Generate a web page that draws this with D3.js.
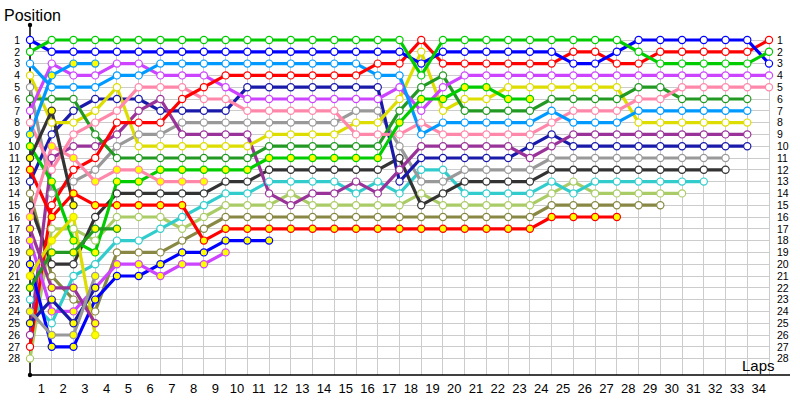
<!DOCTYPE html>
<html><head><meta charset="utf-8">
<script src="https://cdn.jsdelivr.net/npm/d3@7"></script>
<style>body{margin:0;background:#fff}svg{display:block}</style>
</head><body><svg id="c" width="800" height="400"></svg>
<script>
// lap labels / position labels
const laps = d3.range(1, 35);
const positions = d3.range(1, 29);
// team colours
const colGreen = "#00cc00", colBlue = "#0000ff", colSky = "#0099ff", colRed = "#ff0000",
      colViolet = "#cc44ff", colPink = "#ff88aa", colDkGreen = "#229922", colYellow = "#dddd00",
      colPurple = "#993399", colDkBlue = "#1a1aaa", colGray = "#999999", colBlack = "#333333",
      colCyan = "#33cccc", colLOlive = "#aacc66", colOlive = "#888844";
// positions per lap (index = lap, 0 = grid)
const greenA  = [2,1,1,1,1,1,1,1,1,1,1,1,1,1,1,1,1,1,4,1,1,1,1,1,1,1,1,1,2,3,3,3,3,3,2];
const blueA   = [1,2,2,2,2,2,2,2,2,2,2,2,2,2,2,2,2,2,3,2,2,2,2,2,2,3,3,2,1,1,1,1,1,1,3];
const redA    = [27,15,12,11,8,8,8,6,5,4,4,4,4,4,4,4,3,3,1,3,3,3,3,3,3,2,2,3,3,2,2,2,2,2,1];
const violetA = [7,3,4,4,3,3,4,4,4,5,6,6,6,6,6,6,6,5,7,5,4,4,4,4,4,4,4,4,4,4,4,4,4,4,4];
const pinkA   = [8,12,9,8,7,5,5,5,6,6,7,7,7,7,7,9,9,9,8,9,9,9,9,9,8,7,7,7,6,6,5,5,5,5,5];
const dkgreenA= [6,6,6,9,11,11,11,11,11,11,11,10,10,10,10,10,10,7,5,4,7,7,7,7,6,6,6,6,5,5,6,6,6,6];
const skyA    = [3,5,5,5,4,4,3,3,3,3,3,3,3,3,3,3,4,4,9,8,8,8,8,8,7,8,8,8,7,7,7,7,7,7];
const yellowA = [4,8,8,7,5,10,10,10,10,10,10,9,9,9,9,8,8,6,2,7,6,6,5,5,5,5,5,5,8,8,8,8,8,8];
const purpleA = [26,11,10,10,9,7,6,9,9,9,9,14,15,14,14,13,14,12,10,10,10,10,10,11,10,9,9,9,9,9,9,9,9,9];
const dkblueA = [13,9,7,6,6,6,7,7,7,7,5,5,5,5,5,5,5,13,11,11,11,11,11,10,9,10,10,10,10,10,10,10,10,10];
const grayA   = [5,14,13,12,10,9,9,8,8,8,8,8,8,8,8,7,7,10,13,13,12,12,12,12,11,11,11,11,11,11,11,11,11];
const blackA  = [15,20,20,16,14,14,14,14,14,13,13,12,12,12,12,12,12,11,15,14,13,13,13,13,12,12,12,12,12,12,12,12,12];
const cyanA   = [23,25,21,20,18,18,17,16,15,14,14,13,13,13,13,14,13,14,12,12,14,14,14,14,13,14,13,13,13,13,13,13];
const loliveA = [28,17,17,18,16,16,16,17,16,15,15,15,14,15,15,15,15,15,14,15,15,15,15,15,14,13,14,14,14,14,14];
const oliveA  = [14,21,23,24,19,19,19,18,17,16,16,16,16,16,16,16,16,16,16,16,16,16,16,16,15,15,15,15,15,15];
const redB    = [12,16,14,15,15,15,15,15,18,17,17,17,17,17,17,17,17,17,17,17,17,17,17,17,16,16,16,16];
const greenB  = [10,13,18,19,13,13,12,12,12,12,12,11,11,11,11,11,11,8,6,6,5,5,6,6];
const pinkB   = [16,10,11,13,12,12,13,13,13];
const blueB   = [20,27,27,23,21,21,20,19,19,18,18,18];
const violetB = [18,24,24,22,20,20,21,20,20,19];
const skyB    = [9,4,3,3];
const blackB  = [11,7,15];
const yellowB = [21,18,16,26];
const dkgreenB= [22,19,19,17,17];
const purpleB = [17,22,22,25];
const oliveB  = [19];
const dkblueB = [25,23,25,22];
const grayB   = [24,26,26,21];

const series = [
  {c: colOlive, f:"#fff", d: oliveA}, {c: colLOlive, f:"#fff", d: loliveA}, {c: colCyan, f:"#fff", d: cyanA},
  {c: colBlack, f:"#fff", d: blackA}, {c: colGray, f:"#fff", d: grayA}, {c: colDkBlue, f:"#fff", d: dkblueA},
  {c: colPurple, f:"#fff", d: purpleA}, {c: colYellow, f:"#fff", d: yellowA}, {c: colDkGreen, f:"#fff", d: dkgreenA},
  {c: colPink, f:"#fff", d: pinkA}, {c: colViolet, f:"#fff", d: violetA}, {c: colSky, f:"#fff", d: skyA},
  {c: colRed, f:"#fff", d: redA}, {c: colBlue, f:"#fff", d: blueA}, {c: colGreen, f:"#fff", d: greenA},
  {c: colRed, f:"#ffff00", d: redB}, {c: colGreen, f:"#ffff00", d: greenB}, {c: colPink, f:"#ffff00", d: pinkB},
  {c: colBlue, f:"#ffff00", d: blueB}, {c: colViolet, f:"#ffff00", d: violetB}, {c: colSky, f:"#ffff00", d: skyB},
  {c: colBlack, f:"#ffff00", d: blackB}, {c: colYellow, f:"#ffff00", d: yellowB}, {c: colDkGreen, f:"#ffff00", d: dkgreenB},
  {c: colPurple, f:"#ffff00", d: purpleB}, {c: colOlive, f:"#ffff00", d: oliveB}, {c: colDkBlue, f:"#ffff00", d: dkblueB},
  {c: colGray, f:"#ffff00", d: grayB}
];

const svg = d3.select("#c");
const x = d3.scaleLinear().domain([0, 34]).range([30, 769]);
const y = d3.scaleLinear().domain([1, 28]).range([40, 358.6]);
const grid = svg.append("g").attr("stroke", "#cccccc").attr("stroke-width", 1).attr("shape-rendering", "crispEdges");
grid.selectAll("line.v").data(d3.range(0, 35)).join("line").attr("class", "v")
  .attr("x1", d => x(d)).attr("x2", d => x(d)).attr("y1", y(1)).attr("y2", 375);
grid.selectAll("line.h").data(positions).join("line").attr("class", "h")
  .attr("x1", x(0)).attr("x2", x(34)).attr("y1", d => y(d)).attr("y2", d => y(d));

// axes
const fontF = "Liberation Sans, Arial, sans-serif";
const ax = svg.append("g").attr("transform", "translate(0,375)")
  .call(d3.axisBottom(x).tickValues(laps.map(l => l - 0.5)).tickFormat(d => d + 0.5).tickSize(0).tickPadding(9));
ax.select(".domain").remove();
ax.selectAll("text").attr("font-family", fontF).attr("font-size", 13).attr("fill", "#000");
const ayl = svg.append("g").attr("transform", "translate(30,0)")
  .call(d3.axisLeft(y).tickValues(positions).tickFormat(d3.format("d")).tickSize(0).tickPadding(10));
ayl.select(".domain").remove();
ayl.selectAll("text").attr("font-family", fontF).attr("font-size", 10.5).attr("fill", "#000");
const ayr = svg.append("g").attr("transform", "translate(769,0)")
  .call(d3.axisRight(y).tickValues(positions).tickFormat(d3.format("d")).tickSize(0).tickPadding(8));
ayr.select(".domain").remove();
ayr.selectAll("text").attr("font-family", fontF).attr("font-size", 10.5).attr("fill", "#000");
svg.append("line").attr("x1", 30).attr("x2", 30).attr("y1", 25).attr("y2", 375).attr("stroke", "#000").attr("stroke-width", 1.5);
svg.append("line").attr("x1", 30).attr("x2", 790).attr("y1", 375).attr("y2", 375).attr("stroke", "#000").attr("stroke-width", 1.5);
svg.append("circle").attr("cx", 30).attr("cy", 25).attr("r", 2.2).attr("fill", "#000");
svg.append("circle").attr("cx", 30).attr("cy", 375).attr("r", 2.2).attr("fill", "#000");
svg.append("text").attr("x", 4).attr("y", 21).attr("font-family", fontF).attr("font-size", 16).text("Position");
svg.append("text").attr("x", 742).attr("y", 371).attr("font-family", fontF).attr("font-size", 15).text("Laps");

const line = d3.line().x((d, i) => x(i)).y(d => y(d));
const lg = svg.append("g");
series.forEach(s => {
  lg.append("path").attr("d", line(s.d)).attr("fill", "none").attr("stroke", s.c)
    .attr("stroke-width", 3.2).attr("stroke-linejoin", "round");
});
series.forEach(s => {
  lg.append("g").selectAll("circle").data(s.d).join("circle")
    .attr("cx", (d, i) => x(i)).attr("cy", d => y(d)).attr("r", 3.6)
    .attr("fill", s.f).attr("stroke", s.c).attr("stroke-width", 1.2);
});
</script></body></html>
